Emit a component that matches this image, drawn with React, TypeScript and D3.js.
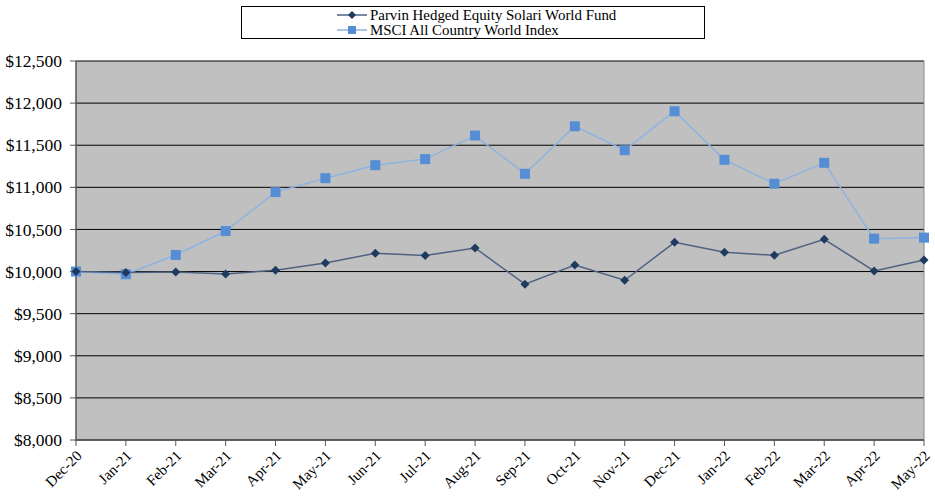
import React from "react";
import * as d3 from "d3";

const months = ["Dec-20","Jan-21","Feb-21","Mar-21","Apr-21","May-21","Jun-21","Jul-21","Aug-21","Sep-21","Oct-21","Nov-21","Dec-21","Jan-22","Feb-22","Mar-22","Apr-22","May-22"];
const fund = [10000,9990,9995,9972,10015,10102,10217,10190,10280,9850,10078,9897,10347,10229,10193,10383,10007,10137];
const msci = [10000,9968,10197,10481,10943,11109,11263,11335,11615,11161,11725,11441,11903,11327,11043,11291,10391,10403];
const yTicks = [8000,8500,9000,9500,10000,10500,11000,11500,12000,12500];
const seriesNames = ["Parvin Hedged Equity Solari World Fund","MSCI All Country World Index"];

const W = 935, H = 496;
const L = 76, R = 924, T = 61, B = 440;

export default function App() {
  const x = d3.scalePoint<string>().domain(months).range([L, R]);
  const y = d3.scaleLinear().domain([8000, 12500]).range([B, T]);
  const line = d3.line<number>().x((_, i) => x(months[i])!).y(d => y(d));
  const fmt = (v: number) => "$" + d3.format(",")(v);
  const font = "'Liberation Serif', 'Times New Roman', serif";
  const diamond = (cx: number, cy: number, r: number) => `M${cx},${cy - r}L${cx + r},${cy}L${cx},${cy + r}L${cx - r},${cy}Z`;
  return (
    <svg width={W} height={H} style={{ position: "absolute", left: 0, top: 0 }} fontFamily={font}>
      <rect x={0} y={0} width={W} height={H} fill="#fff" />
      <rect x={L} y={T} width={R - L} height={B - T} fill="#c0c0c0" />
      {yTicks.map(t => (
        <g key={t}>
          <line x1={L} x2={R} y1={y(t)} y2={y(t)} stroke="#000" strokeWidth={1} />
          <line x1={L - 6} x2={L} y1={y(t)} y2={y(t)} stroke="#555" strokeWidth={1} />
          <text x={62} y={y(t)} dy="0.35em" textAnchor="end" fontSize={17.5} fill="#000">{fmt(t)}</text>
        </g>
      ))}
      <line x1={R} x2={R} y1={T} y2={B} stroke="#888" strokeWidth={1} />
      <line x1={L} x2={L} y1={T} y2={B + 1} stroke="#555" strokeWidth={1.5} />
      <line x1={L} x2={R} y1={B} y2={B} stroke="#555" strokeWidth={1.5} />
      {months.map(m => (
        <g key={m}>
          <line x1={x(m)!} x2={x(m)!} y1={B} y2={B + 6} stroke="#555" strokeWidth={1} />
          <text transform={`translate(${x(m)! + 3},${B + 13}) rotate(-45)`} textAnchor="end" dy="0.35em" fontSize={15} fill="#000">{m}</text>
        </g>
      ))}
      <path d={line(msci)!} fill="none" stroke="#8db3e2" strokeWidth={1.5} />
      <path d={line(fund)!} fill="none" stroke="#4f6282" strokeWidth={1.5} />
      {msci.map((v, i) => (
        <rect key={"m" + i} x={x(months[i])! - 5} y={y(v) - 5} width={10} height={10} fill="#558ed5" />
      ))}
      {fund.map((v, i) => (
        <path key={"f" + i} d={diamond(x(months[i])!, y(v), 4.5)} fill="#1f3a5f" />
      ))}
      <rect x={241.5} y={6.5} width={463} height={32} fill="#fff" stroke="#000" strokeWidth={1} />
      <line x1={337} x2={367} y1={15} y2={15} stroke="#4f6282" strokeWidth={1.5} />
      <path d={diamond(352, 15, 4)} fill="#1f3a5f" />
      <text x={370} y={15} dy="0.35em" fontSize={14.9} fill="#000">{seriesNames[0]}</text>
      <line x1={337} x2={367} y1={30} y2={30} stroke="#8db3e2" strokeWidth={1.5} />
      <rect x={348} y={26} width={8} height={8} fill="#558ed5" />
      <text x={370} y={30} dy="0.35em" fontSize={14.9} fill="#000">{seriesNames[1]}</text>
    </svg>
  );
}
